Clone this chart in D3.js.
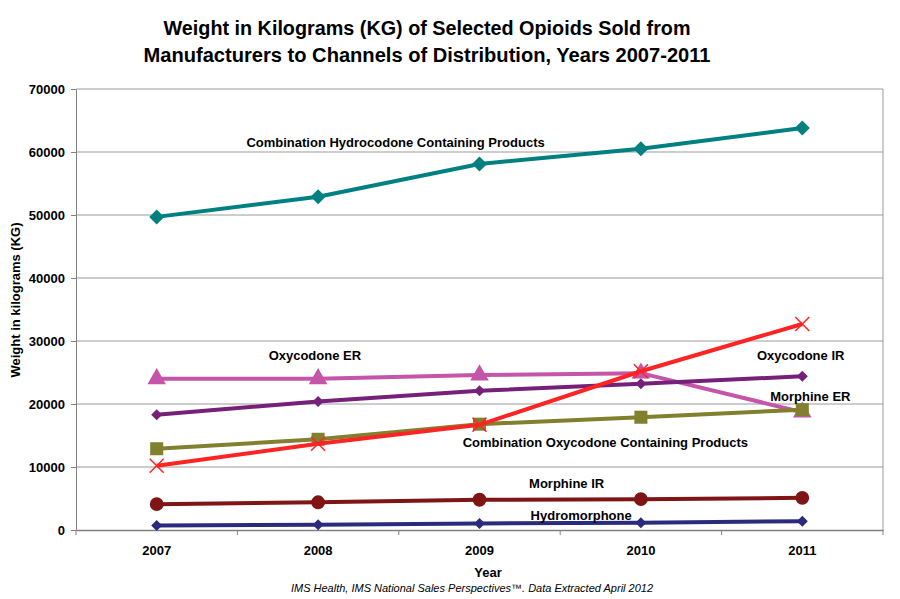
<!DOCTYPE html>
<html>
<head>
<meta charset="utf-8">
<script src="https://cdn.jsdelivr.net/npm/d3@7"></script>
<style>
  body { margin: 0; background: #fff; }
  text { font-family: "Liberation Sans", Arial, sans-serif; }
</style>
</head>
<body>
<div class="box"></div>
<script>
// donnees
const years = ['2007', '2008', '2009', '2010', '2011']
const yTicks = [0, 10000, 20000, 30000, 40000, 50000, 60000, 70000]

const hydrocodoneCombo = [49700, 52900, 58100, 60500, 63800]
const oxycodoneER = [24000, 24000, 24600, 24900, 18700]
const oxycodoneIR = [18300, 20400, 22100, 23200, 24400]
const oxycodoneCombo = [12900, 14400, 16800, 17900, 19100]
const morphineER = [10200, 13700, 16700, 25200, 32700]
const morphineIR = [4100, 4400, 4800, 4900, 5100]
const hydromorphone = [700, 850, 1050, 1150, 1400]

const series = [
  {name: 'Combination Hydrocodone Containing Products', values: hydrocodoneCombo, color: '#008080', marker: 'diamond', size: 7.5},
  {name: 'Oxycodone ER', values: oxycodoneER, color: '#C455A8', marker: 'triangle', size: 150},
  {name: 'Oxycodone IR', values: oxycodoneIR, color: '#76207A', marker: 'diamond', size: 5.5},
  {name: 'Combination Oxycodone Containing Products', values: oxycodoneCombo, color: '#80802E', marker: 'square', size: 170},
  {name: 'Morphine ER', values: morphineER, color: '#FF2424', marker: 'cross', size: 7},
  {name: 'Morphine IR', values: morphineIR, color: '#7F1515', marker: 'circle', size: 150},
  {name: 'Hydromorphone', values: hydromorphone, color: '#2B2B7E', marker: 'diamond', size: 5.5}
]

// etiquettes : position en index de categorie et en valeur
const labels = [
  {text: 'Combination Hydrocodone Containing Products', at: 1.48, val: 60800},
  {text: 'Oxycodone ER', at: 0.98, val: 27000},
  {text: 'Oxycodone IR', at: 3.99, val: 27000},
  {text: 'Morphine ER', at: 4.05, val: 20500},
  {text: 'Combination Oxycodone Containing Products', at: 2.78, val: 13200},
  {text: 'Morphine IR', at: 2.54, val: 6700},
  {text: 'Hydromorphone', at: 2.63, val: 1600}
]

const width = 900
const height = 599
const margin = {top: 89, right: 17, bottom: 69, left: 76}
const graphWidth = width - margin.left - margin.right
const graphHeight = height - margin.top - margin.bottom

const svg = d3.select('.box')
  .append('svg')
  .attr('width', width)
  .attr('height', height)

const graph = svg.append('g')
  .attr('transform', `translate(${margin.left}, ${margin.top})`)

const x = d3.scaleBand()
  .domain(years)
  .range([0, graphWidth])
const xPos = d => x(d) + x.bandwidth() / 2
const xIdx = i => i * x.bandwidth() + x.bandwidth() / 2

const y = d3.scaleLinear()
  .domain([0, 70000])
  .range([graphHeight, 0])

// grille horizontale
graph.selectAll('.grid')
  .data(yTicks.slice(1))
  .enter()
  .append('line')
  .attr('x1', 0)
  .attr('x2', graphWidth)
  .attr('y1', d => y(d))
  .attr('y2', d => y(d))
  .attr('stroke', '#9a9a9a')
  .attr('stroke-width', 1)

// bord droit
graph.append('line')
  .attr('x1', graphWidth).attr('x2', graphWidth)
  .attr('y1', 0).attr('y2', graphHeight)
  .attr('stroke', '#9a9a9a')

// axes
const axeY = d3.axisLeft(y)
  .tickValues(yTicks)
  .tickFormat(d3.format('d'))
  .tickSize(5)
  .tickSizeOuter(0)
  .tickPadding(6)
const groupY = graph.append('g').call(axeY)
groupY.selectAll('text').style('font-size', '13px').style('font-weight', 'bold').attr('fill', '#000')
groupY.selectAll('line, path').attr('stroke', '#808080')

const axeX = d3.axisBottom(x).tickSize(0).tickPadding(16)
const groupX = graph.append('g')
  .attr('transform', `translate(0, ${graphHeight})`)
  .call(axeX)
groupX.selectAll('text').style('font-size', '13px').style('font-weight', 'bold').attr('fill', '#000')
groupX.select('path').attr('stroke', '#808080').attr('stroke-width', 1.5)
// graduations entre categories
groupX.selectAll('.sep')
  .data(d3.range(years.length + 1))
  .enter()
  .append('line')
  .attr('x1', i => i * x.bandwidth())
  .attr('x2', i => i * x.bandwidth())
  .attr('y1', 0)
  .attr('y2', 5)
  .attr('stroke', '#808080')

// lignes
const line = d3.line()
  .x((d, i) => xPos(years[i]))
  .y(d => y(d))

const markerShapes = {
  triangle: d3.symbolTriangle,
  square: d3.symbolSquare,
  circle: d3.symbolCircle
}

series.forEach(s => {
  graph.append('path')
    .datum(s.values)
    .attr('fill', 'none')
    .attr('stroke', s.color)
    .attr('stroke-width', 4)
    .attr('d', line)

  const pts = graph.selectAll(null)
    .data(s.values)
    .enter()
    .append('g')
    .attr('transform', (d, i) => `translate(${xPos(years[i])}, ${y(d)})`)

  const r = s.size
  if (s.marker === 'cross') {
    pts.append('path')
      .attr('d', `M${-r},${-r}L${r},${r}M${-r},${r}L${r},${-r}`)
      .attr('stroke', s.color)
      .attr('stroke-width', 1.5)
      .attr('fill', 'none')
  } else if (s.marker === 'diamond') {
    pts.append('path')
      .attr('d', `M0,${-r}L${r},0L0,${r}L${-r},0Z`)
      .attr('fill', s.color)
  } else {
    pts.append('path')
      .attr('d', d3.symbol().type(markerShapes[s.marker]).size(s.size))
      .attr('fill', s.color)
  }
})

// etiquettes des series
graph.selectAll('.lbl')
  .data(labels)
  .enter()
  .append('text')
  .attr('x', d => xIdx(d.at))
  .attr('y', d => y(d.val))
  .attr('text-anchor', 'middle')
  .style('font-size', '13px')
  .style('font-weight', 'bold')
  .text(d => d.text)

// titre
const title = ['Weight in Kilograms (KG) of Selected Opioids Sold from',
               'Manufacturers to Channels of Distribution, Years 2007-2011']
svg.selectAll('.title')
  .data(title)
  .enter()
  .append('text')
  .attr('x', 427)
  .attr('y', (d, i) => 35 + i * 27)
  .attr('text-anchor', 'middle')
  .attr('textLength', (d, i) => i === 0 ? 527 : 567)
  .attr('lengthAdjust', 'spacingAndGlyphs')
  .style('font-size', '20px')
  .style('font-weight', 'bold')
  .text(d => d)

// titres des axes
svg.append('text')
  .attr('transform', `translate(20, 300) rotate(-90)`)
  .attr('text-anchor', 'middle')
  .style('font-size', '13px')
  .style('font-weight', 'bold')
  .text('Weight in kilograms (KG)')

svg.append('text')
  .attr('x', 488)
  .attr('y', 577)
  .attr('text-anchor', 'middle')
  .style('font-size', '13px')
  .style('font-weight', 'bold')
  .text('Year')

svg.append('text')
  .attr('x', 472)
  .attr('y', 592)
  .attr('text-anchor', 'middle')
  .style('font-size', '11px')
  .style('font-style', 'italic')
  .text('IMS Health, IMS National Sales Perspectives\u2122. Data Extracted  April 2012')
</script>
</body>
</html>
